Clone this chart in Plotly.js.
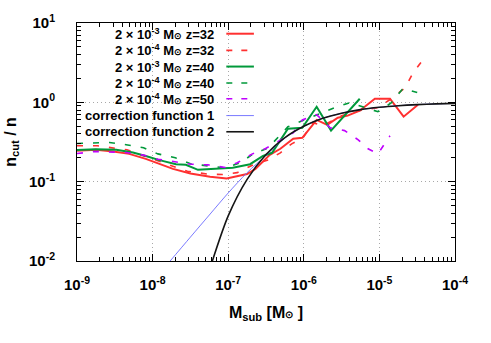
<!DOCTYPE html>
<html><head><meta charset="utf-8">
<script src="https://cdn.plot.ly/plotly-3.0.1.min.js"></script>
<style>html,body{margin:0;padding:0;background:#fff}#chart{width:491px;height:343px}</style>
</head><body><div id="chart"></div>
<script>
// ---- data (log10 of subhalo mass, ratio n_cut/n) ----
const r1_logM = [-9.0,-8.75,-8.52,-8.31,-8.09,-7.91,-7.73,-7.5,-7.24,-7.02,-6.75,-6.64,-6.45,-6.31,-6.14,-6.02,-5.83,-5.69,-5.55,-5.42,-5.26,-5.06,-4.86,-4.68,-4.49];
const r1_val  = [0.245,0.252,0.24,0.224,0.194,0.168,0.145,0.127,0.115,0.11,0.125,0.145,0.218,0.26,0.347,0.357,0.60,0.52,0.64,0.68,0.785,1.11,1.11,0.66,0.935];

const r2_logM = [-9.0,-8.73,-8.34,-8.0,-7.54,-7.28,-7.08,-6.88,-6.67,-6.47,-6.31,-6.16,-6.01,-5.88,-5.75,-5.5,-5.28,-5.02,-4.82,-4.66,-4.56,-4.40];
const r2_val  = [0.283,0.283,0.252,0.194,0.135,0.125,0.123,0.13,0.163,0.188,0.231,0.30,0.357,0.553,0.507,0.68,0.785,0.857,1.15,1.53,2.31,3.68];

const g1_logM = [-9.0,-8.75,-8.48,-8.26,-8.09,-7.91,-7.69,-7.56,-7.4,-7.11,-6.94,-6.71,-6.54,-6.42,-6.21,-6.02,-5.83,-5.64,-5.26];
const g1_val  = [0.25,0.257,0.252,0.233,0.211,0.187,0.166,0.163,0.141,0.146,0.150,0.166,0.211,0.231,0.465,0.478,0.88,0.44,1.11];

const g2_logM = [-9.0,-8.57,-8.35,-8.12,-7.93,-7.7,-7.5,-7.28,-7.04,-6.84,-6.67,-6.47,-6.21,-6.02,-5.59,-5.39,-5.02,-4.84,-4.69,-4.5];
const g2_val  = [0.303,0.312,0.292,0.267,0.224,0.20,0.168,0.160,0.149,0.173,0.224,0.267,0.492,0.587,0.857,0.99,0.762,0.99,1.49,1.33];

const p_logM = [-9.0,-8.77,-8.35,-8.12,-7.93,-7.72,-7.49,-7.27,-7.04,-6.88,-6.68,-6.51,-6.14,-6.02,-5.83,-5.65,-5.46,-5.28,-5.15,-5.02,-4.86];
const p_val  = [0.226,0.24,0.233,0.216,0.192,0.179,0.166,0.163,0.151,0.173,0.224,0.26,0.413,0.60,0.70,0.478,0.44,0.337,0.26,0.224,0.379];

const c1_logM = [-7.8,-7.5,-7.25,-7.0,-6.75,-6.5,-6.25,-6.0,-5.75,-5.5,-5.25,-5.0,-4.75,-4.5,-4.25,-4.0];
const c1_val  = [0.0092,0.020,0.038,0.072,0.13,0.215,0.355,0.50,0.63,0.73,0.81,0.866,0.907,0.936,0.956,0.970];

const c2_logM = [-7.25,-7.0,-6.75,-6.5,-6.25,-6.0,-5.75,-5.5,-5.25,-5.0,-4.75,-4.5,-4.25,-4.0];
const c2_val  = [0.0076,0.037,0.107,0.22,0.36,0.50,0.63,0.73,0.81,0.866,0.907,0.936,0.956,0.970];

const xTickVals = [1e-9,1e-8,1e-7,1e-6,1e-5,1e-4];
const xTickText = ['10<sup>-9</sup>','10<sup>-8</sup>','10<sup>-7</sup>','10<sup>-6</sup>','10<sup>-5</sup>','10<sup>-4</sup>'];
const yTickVals = [1e-2,1e-1,1,10];
const yTickText = ['10<sup>-2</sup>','10<sup>-1</sup>','10<sup>0</sup>','10<sup>1</sup>'];

const SUN = '<span style="font-size:9px">⊙</span>';
const legendLabels = [
  '2 × 10<sup>-3</sup> M'+SUN+' z=32',
  '2 × 10<sup>-4</sup> M'+SUN+' z=32',
  '2 × 10<sup>-3</sup> M'+SUN+' z=40',
  '2 × 10<sup>-4</sup> M'+SUN+' z=40',
  '2 × 10<sup>-4</sup> M'+SUN+' z=50',
  'correction function 1',
  'correction function 2'
];

// ---- styles ----
const RED='#ff3030', GREEN='#00993a', PURPLE='#c000ff', BLUE='#6b6bff', BLACK='#151515';
const DASH='6px,10px';
const styles = [
  {color:RED,width:2,dash:'solid'},
  {color:RED,width:1.6,dash:DASH},
  {color:GREEN,width:2,dash:'solid'},
  {color:GREEN,width:1.6,dash:DASH},
  {color:PURPLE,width:1.6,dash:DASH},
  {color:BLUE,width:0.9,dash:'solid'},
  {color:BLACK,width:1.6,dash:'solid'}
];
const series = [[r1_logM,r1_val],[r2_logM,r2_val],[g1_logM,g1_val],[g2_logM,g2_val],[p_logM,p_val],[c1_logM,c1_val],[c2_logM,c2_val]];
const toM = a => a.map(v => Math.pow(10, v));

const traces = series.map((s,i) => ({
  x: toM(s[0]), y: s[1], type:'scatter', mode:'lines', name: legendLabels[i],
  line: Object.assign({}, styles[i], i>=5 ? {shape:'spline', smoothing:0.8} : {}),
  hoverinfo:'skip', showlegend:false
}));

// ---- manual gnuplot-style legend (text right, sample line at right) ----
const F = {family:'Liberation Sans, Arial, sans-serif', weight:'bold', color:'#000'};
const rowY = [0.955,0.885,0.817,0.748,0.682,0.611,0.543];
const annotations = legendLabels.map((t,i) => ({
  xref:'paper', yref:'paper', x:0.367, y:rowY[i], xanchor:'right', yanchor:'middle',
  text:t, showarrow:false, font:Object.assign({size:13}, F)
}));
const shapes = [{type:'rect', xref:'paper', yref:'paper', x0:0.003, x1:0.492, y0:0.527, y1:0.997,
  fillcolor:'#fff', line:{width:0}, layer:'between'}];
legendLabels.forEach((t,i) => {
  shapes.push({type:'line', xref:'paper', yref:'paper', x0:0.395, x1:0.468, y0:rowY[i], y1:rowY[i],
    line: styles[i].dash===DASH ? {color:styles[i].color, width:styles[i].width, dash:'6px,9px'} : {color:styles[i].color, width:styles[i].width}, layer:'above'});
});

const axisCommon = {
  type:'log', showline:true, linecolor:'#000', linewidth:1, mirror:'allticks',
  ticks:'inside', ticklen:7, tickcolor:'#000', tickwidth:1,
  showgrid:true, gridcolor:'#a8a8a8', griddash:'1px,3px', gridwidth:1, zeroline:false,
  tickmode:'array', tickfont:Object.assign({size:15}, F),
  minor:{ticks:'inside', ticklen:4, tickcolor:'#000', dtick:'D1', showgrid:false}
};

const layout = {
  width:491, height:343, paper_bgcolor:'#fff', plot_bgcolor:'#fff',
  margin:{l:77, r:36, t:23, b:82},
  xaxis: Object.assign({}, axisCommon, {range:[-9,-4], tickvals:xTickVals, ticktext:xTickText, ticklabelstandoff:10,
    title:{text:'M<sub>sub</sub> [M'+'<span style="font-size:10px">⊙</span>'+' ]', font:Object.assign({size:16}, F), standoff:14}}),
  yaxis: Object.assign({}, axisCommon, {range:[-2,1], tickvals:yTickVals, ticktext:yTickText, ticklabelstandoff:18,
    title:{text:'n<sub>cut</sub> / n', font:Object.assign({size:16}, F), standoff:8}}),
  shapes: shapes, annotations: annotations, showlegend:false
};

Plotly.newPlot('chart', traces, layout, {staticPlot:true, displayModeBar:false});
</script></body></html>
